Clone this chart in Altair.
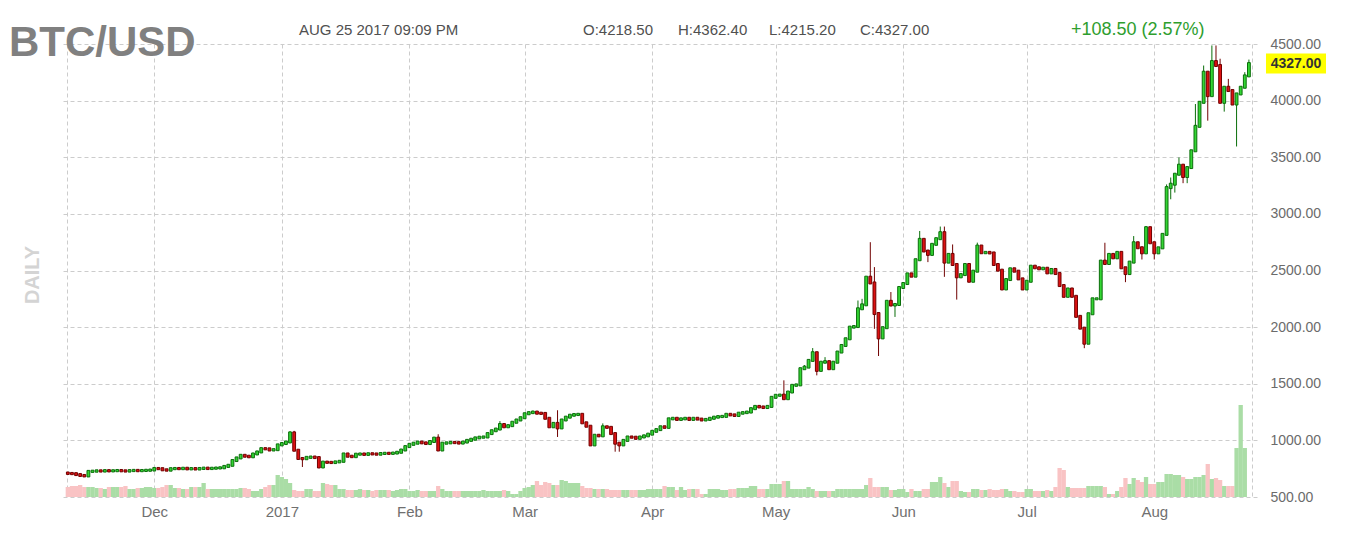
import altair as alt
import pandas as pd

# ---------------- data ----------------
start_date = "2016-11-10"
first_open = 712

closes_nov = [708, 706, 698, 690, 686, 726, 728, 731, 729, 733, 730, 732, 734, 731, 729, 733, 735, 732, 734, 736, 738]
closes_dec = [752, 750, 740, 737, 750, 752, 750, 754, 748, 751, 747, 752, 755, 751, 754, 756, 758, 770, 780, 822,
              845, 868, 860, 855, 880, 898, 927, 925, 915, 918, 960]
closes_jan = [972, 986, 1066, 913, 840, 838, 850, 853, 848, 765, 808, 806, 804, 810, 815, 880, 860, 856, 878, 880,
              876, 882, 880, 878, 884, 886, 885, 888, 895, 915, 945]
closes_feb = [965, 975, 985, 978, 972, 990, 1020, 915, 975, 978, 982, 980, 976, 985, 1000, 1010, 1022, 1028, 1030,
              1060, 1085, 1100, 1140, 1120, 1130, 1160, 1180, 1200]
closes_mar = [1235, 1245, 1250, 1240, 1238, 1195, 1120, 1150, 1110, 1180, 1205, 1222, 1228, 1230, 1155, 1125, 960,
              1045, 1040, 1120, 1115, 1060, 975, 960, 1000, 1030, 1028, 1018, 1030, 1040, 1055]
closes_apr = [1080, 1095, 1120, 1115, 1190, 1195, 1185, 1190, 1195, 1185, 1195, 1188, 1180, 1185, 1195, 1205, 1210,
              1212, 1230, 1225, 1220, 1240, 1245, 1250, 1280, 1300, 1295, 1290, 1300, 1380]
closes_may = [1398, 1400, 1368, 1427, 1486, 1490, 1633, 1647, 1706, 1774, 1618, 1690, 1695, 1633, 1690, 1780, 1838,
              1897, 2000, 2005, 2162, 2197, 2441, 2390, 2120, 1905, 1995, 2228, 2195, 2200, 2350]
closes_jun = [2385, 2470, 2450, 2595, 2775, 2672, 2642, 2731, 2781, 2834, 2574, 2642, 2553, 2444, 2464, 2553, 2405,
              2494, 2716, 2657, 2660, 2655, 2553, 2503, 2337, 2420, 2515, 2494, 2426, 2337]
closes_jul = [2405, 2538, 2524, 2515, 2520, 2479, 2509, 2473, 2367, 2272, 2337, 2272, 2095, 1991, 1858,
              2118, 2250, 2250, 2583, 2562, 2642, 2612, 2660, 2524, 2473, 2574, 2745, 2701, 2656, 2878, 2745]
closes_aug = [2656, 2700, 2819, 3232, 3262, 3350, 3430, 3330, 3409, 3557, 3773, 3985, 4251, 4044, 4345, 4310, 3985,
              4118, 4089, 3970, 4059, 4118, 4218.5, 4327]

high_marks = {
    "2017-01-03": 1080, "2017-01-04": 1084, "2017-02-08": 1054, "2017-02-23": 1170, "2017-03-03": 1262,
    "2017-03-09": 1266, "2017-03-20": 1150, "2017-05-03": 1530, "2017-05-08": 1665, "2017-05-10": 1815,
    "2017-05-13": 1735, "2017-05-21": 2235, "2017-05-22": 2250, "2017-05-24": 2750, "2017-05-25": 2530,
    "2017-05-29": 2310, "2017-06-05": 2849, "2017-06-10": 2888, "2017-06-11": 2888, "2017-06-13": 2730,
    "2017-06-19": 2746, "2017-07-20": 2745, "2017-07-27": 2804, "2017-07-30": 2893, "2017-08-04": 3260,
    "2017-08-05": 3321, "2017-08-07": 3498, "2017-08-11": 3970, "2017-08-13": 4310, "2017-08-15": 4487,
    "2017-08-16": 4487, "2017-08-17": 4370, "2017-08-19": 4192, "2017-08-23": 4251, "2017-08-24": 4362.4,
}
low_marks = {
    "2017-01-06": 765, "2017-01-10": 760, "2017-03-09": 1030, "2017-03-23": 900, "2017-03-24": 900,
    "2017-05-11": 1574, "2017-05-25": 1985, "2017-05-26": 1745, "2017-05-30": 2090, "2017-06-07": 2574,
    "2017-06-11": 2444, "2017-06-14": 2243, "2017-07-15": 1814, "2017-07-25": 2397, "2017-07-29": 2597,
    "2017-08-01": 2597, "2017-08-05": 3129, "2017-08-06": 3188, "2017-08-08": 3271, "2017-08-09": 3271,
    "2017-08-14": 3823, "2017-08-18": 3903, "2017-08-21": 3595, "2017-08-24": 4215.2,
}

vol_nov = [10, 11, 11, 12, 10, 10, 10, 9, 9, 8, 10, 10, 10, 10, 11, 8, 8, 9, 9, 10, 10]
vol_dec = [9, 9, 10, 12, 12, 9, 9, 8, 8, 10, 10, 10, 14, 8, 8, 8, 8, 8, 8, 8, 8, 9, 9, 8, 6, 6, 8, 10, 12, 12, 22]
vol_jan = [20, 18, 14, 7, 6, 6, 8, 8, 6, 6, 14, 13, 12, 12, 8, 8, 7, 7, 7, 8, 7, 7, 6, 7, 7, 7, 7, 6, 7, 8, 8]
vol_feb = [6, 6, 7, 6, 6, 6, 6, 11, 8, 6, 6, 6, 6, 6, 6, 6, 6, 6, 7, 6, 6, 6, 6, 7, 6, 3, 3, 6]
vol_mar = [9, 10, 12, 16, 12, 15, 14, 12, 12, 17, 16, 14, 14, 14, 11, 9, 9, 8, 8, 8, 8, 7, 7, 7, 7, 7, 7, 7, 7, 7, 8]
vol_apr = [8, 8, 8, 11, 10, 10, 7, 10, 7, 8, 8, 8, 3, 3, 8, 8, 8, 7, 7, 8, 8, 9, 9, 9, 11, 11, 8, 8, 8, 13]
vol_may = [13, 13, 16, 16, 8, 8, 8, 8, 10, 8, 6, 6, 6, 6, 6, 8, 8, 8, 8, 8, 8, 8, 12, 19, 10, 10, 10, 10, 7, 7, 8]
vol_jun = [8, 5, 8, 6, 6, 8, 8, 15, 15, 20, 14, 10, 16, 16, 6, 5, 5, 8, 8, 7, 7, 8, 7, 7, 8, 8, 6, 6, 5, 5]
vol_jul = [8, 8, 6, 6, 6, 7, 6, 10, 29, 27, 10, 9, 9, 9, 9, 11, 11, 11, 11, 10, 3, 3, 6, 10, 19, 13, 19, 17, 15, 20, 13]
vol_aug = [13, 15, 15, 23, 23, 22, 22, 20, 18, 18, 20, 20, 22, 33, 18, 19, 17, 11, 11, 11, 49, 92, 49, 0]

month_ticks = ["2016-12-01", "2017-01-01", "2017-02-01", "2017-03-01", "2017-04-01",
               "2017-05-01", "2017-06-01", "2017-07-01", "2017-08-01"]
month_labels = ["Dec", "2017", "Feb", "Mar", "Apr", "May", "Jun", "Jul", "Aug"]
price_ticks = [500, 1000, 1500, 2000, 2500, 3000, 3500, 4000, 4500]

title_text = "BTC/USD"
stamp_text = "AUG 25 2017 09:09 PM"
side_text = "DAILY"

# ---------------- table ----------------
closes = (closes_nov + closes_dec + closes_jan + closes_feb + closes_mar + closes_apr +
          closes_may + closes_jun + closes_jul + closes_aug)
vols = (vol_nov + vol_dec + vol_jan + vol_feb + vol_mar + vol_apr + vol_may + vol_jun + vol_jul + vol_aug)
dates = pd.date_range(start_date, periods=len(closes), freq="D")
opens = [first_open] + closes[:-1]
rows = []
for i, (d, o, c, v) in enumerate(zip(dates, opens, closes, vols)):
    key = d.strftime("%Y-%m-%d")
    h = max(o, c, high_marks.get(key, 0))
    lo = min(o, c, low_marks.get(key, 1e9))
    rows.append({"date": key, "idx": i, "open": o, "high": h, "low": lo, "close": c, "vol": v,
                 "body_lo": min(o, c), "body_hi": max(o, c)})
df = pd.DataFrame(rows)
last = df.tail(1).reset_index(drop=True)

t0 = pd.Timestamp(start_date)
tick_idx = [(pd.Timestamp(t) - t0).days for t in month_ticks]
x_lo, x_hi = -0.2, len(closes) - 0.25
label_expr = "".join(f"datum.value == {v} ? '{lab}' : " for v, lab in zip(tick_idx, month_labels)) + "''"

FONT = "Liberation Sans"
GREEN, GREEN_DK = "#33d633", "#0a6e0a"
RED, RED_DK = "#dd1111", "#700000"
VOL_UP, VOL_DN = "#aadda6", "#f9c3c4"
up = "datum.close >= datum.open"

x_enc = alt.X(
    "idx:Q",
    scale=alt.Scale(domain=[x_lo, x_hi], nice=False, zero=False),
    axis=alt.Axis(values=[x_lo] + tick_idx + [x_hi], labelExpr=label_expr, title=None,
                  grid=True, gridDash=[4, 3], gridColor="#cccccc", domain=False, ticks=False,
                  tickSize=0, labelPadding=7, labelFontSize=15, labelColor="#707070",
                  labelFont=FONT, labelFlush=False, labelOverlap=False),
)
yscale = alt.Scale(domain=[500, 4500], nice=False, zero=False)
y_axis = alt.Axis(values=price_ticks, format=".2f", orient="right", title=None, grid=True,
                  gridDash=[4, 3], gridColor="#cccccc", domain=False, ticks=False, tickSize=0,
                  labelPadding=13, labelFontSize=14, labelColor="#6b6b6b", labelFont=FONT,
                  labelFlush=False, labelOverlap=False)

volume = alt.Chart(df).mark_bar(size=4.3).encode(
    x=x_enc,
    y=alt.Y("vol:Q", scale=alt.Scale(domain=[0, 453], nice=False), axis=None),
    color=alt.condition(up, alt.value(VOL_UP), alt.value(VOL_DN)),
)

wick = alt.Chart(df).mark_rule(strokeWidth=1).encode(
    x=x_enc,
    y=alt.Y("low:Q", scale=yscale, axis=y_axis),
    y2="high:Q",
    color=alt.condition(up, alt.value(GREEN_DK), alt.value(RED_DK)),
)
body = alt.Chart(df).mark_bar(size=2.8, strokeWidth=1, yOffset=1, y2Offset=-1).encode(
    x=x_enc,
    y=alt.Y("body_lo:Q", scale=yscale, axis=y_axis),
    y2="body_hi:Q",
    fill=alt.condition(up, alt.value(GREEN), alt.value(RED)),
    stroke=alt.condition(up, alt.value(GREEN_DK), alt.value(RED_DK)),
)
label_box = alt.Chart(last).mark_rect(color="#ffff00", yOffset=-10, y2Offset=10).encode(
    x=alt.value(1204), x2=alt.value(1264),
    y=alt.Y("close:Q", scale=yscale, axis=y_axis), y2="close:Q",
)
label_txt = alt.Chart(last).mark_text(font=FONT, fontSize=14, fontWeight="bold", color="#333333",
                                      align="center", baseline="middle").encode(
    x=alt.value(1234),
    y=alt.Y("close:Q", scale=yscale, axis=y_axis),
    text=alt.Text("close:Q", format=".2f"),
)
price = alt.layer(wick, body, label_box, label_txt)

lr = last.iloc[0]
prev_close = closes[-2]
chg = lr["close"] - prev_close
ohlc_texts = [f"O:{lr['open']:.2f}", f"H:{lr['high']:.2f}", f"L:{lr['low']:.2f}", f"C:{lr['close']:.2f}"]
chg_text = f"+{chg:.2f} ({chg / prev_close * 100:.2f}%)"


def txt(s, x, y, size, color, weight="normal", angle=0, align="left", baseline="alphabetic"):
    return alt.Chart(pd.DataFrame({"t": [s]})).mark_text(
        font=FONT, fontSize=size, color=color, fontWeight=weight, angle=angle,
        align=align, baseline=baseline,
    ).encode(x=alt.value(x), y=alt.value(y), text="t:N")


texts = [
    txt(title_text, -53, 12, 42, "#808080", weight="bold"),
    txt(stamp_text, 237, -9, 15, "#505050"),
    txt(ohlc_texts[0], 521, -9, 15, "#505050"),
    txt(ohlc_texts[1], 616, -9, 15, "#505050"),
    txt(ohlc_texts[2], 707, -9, 15, "#505050"),
    txt(ohlc_texts[3], 798, -9, 15, "#505050"),
    txt(chg_text, 1009, -9, 18, "#2e9e2e"),
    txt(side_text, -29, 231, 20, "#d4d4d4", weight="bold", angle=270, align="center", baseline="middle"),
]

chart = alt.layer(volume, price, *texts).resolve_scale(y="independent").properties(
    width=1195, height=453,
    padding={"left": 54, "top": 36, "right": 95, "bottom": 30},
    autosize=alt.AutoSizeParams(type="none"),
).configure_view(strokeWidth=0)

chart.save("out.html", embed_options={"renderer": "svg", "actions": False})
